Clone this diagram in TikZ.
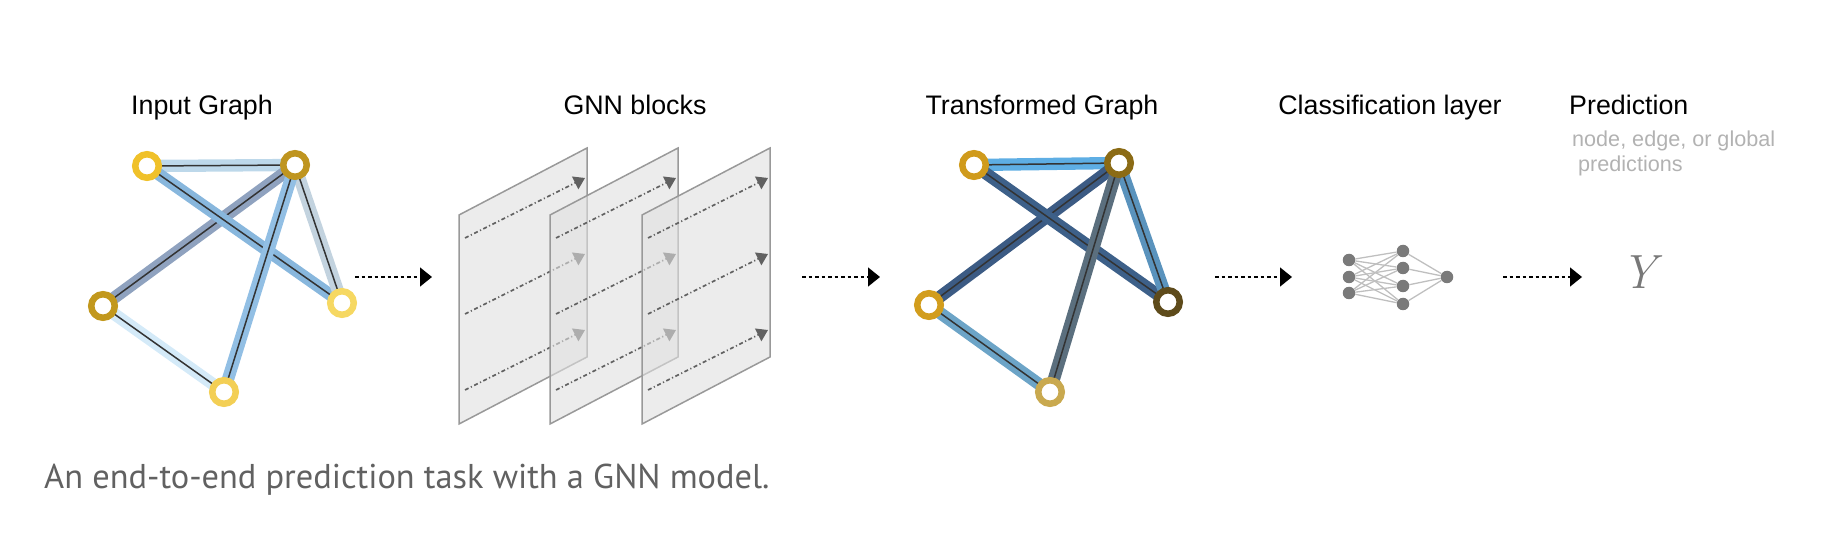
\documentclass[tikz,border=0pt]{standalone}
\usepackage{fontspec}
\usepackage{tikz}
\usetikzlibrary{arrows.meta,positioning,backgrounds}

\newfontfamily\labelfont{Liberation Sans}
\newfontfamily\captionfont{PT Sans}

% node rings
\definecolor{inA}{HTML}{F0C12A}
\definecolor{inB}{HTML}{BF951F}
\definecolor{inC}{HTML}{C2981D}
\definecolor{inD}{HTML}{F6D862}
\definecolor{inE}{HTML}{F3CF55}
\definecolor{outA}{HTML}{D09B1C}
\definecolor{outB}{HTML}{8B6B15}
\definecolor{outC}{HTML}{D29D1D}
\definecolor{outD}{HTML}{5E4B1B}
\definecolor{outE}{HTML}{C9A94F}
% edge bands
\definecolor{inAB}{HTML}{BDD8EA}
\definecolor{inAD}{HTML}{88B7DD}
\definecolor{inBC}{HTML}{8FA2BF}
\definecolor{inBE}{HTML}{92BFE4}
\definecolor{inBD}{HTML}{C3D3DF}
\definecolor{inCE}{HTML}{D4EAF8}
\definecolor{outAB}{HTML}{5EAEE4}
\definecolor{outAD}{HTML}{3D6089}
\definecolor{outBC}{HTML}{3C5B84}
\definecolor{outBE}{HTML}{5B6F7E}
\definecolor{outBD}{HTML}{5A93BD}
\definecolor{outCE}{HTML}{6CA4C7}

\begin{document}
\begin{tikzpicture}[
    x = 1pt, y = -1pt, % one unit per pixel, y going down
    gnode/.style = {circle, draw=#1, fill=white, line width=6.5pt,
        minimum size=23.5pt, inner sep=0pt}, % graph vertex
    band/.style = {draw=#1, line width=5.4pt, double=black!80,
        double distance=1.5pt}, % graph edge
    title/.style = {anchor=base, inner sep=0pt,
        font=\labelfont\fontsize{26.8}{30}\selectfont},
    panel/.style = {draw=black!40, line width=1.5pt, fill=black!12,
        fill opacity=0.6},
    pass/.style = {-{Triangle[length=11pt,width=14pt]}, draw=black!62,
        line width=1.6pt, dash pattern=on 4pt off 2.5pt on 1.2pt off 2.5pt},
    flow/.style = {-{Triangle[length=12pt,width=19pt]}, line width=1.5pt,
        dash pattern=on 3.5pt off 3pt},
    unit/.style = {circle, fill=black!52, minimum size=12.5pt, inner sep=0pt},
    wire/.style = {draw=black!25, line width=1.3pt}
    ]

    \useasboundingbox (0,0) rectangle (1826,534);

    % input graph
    \node[gnode=inA] (a1) at (147,166) {};
    \node[gnode=inB] (b1) at (295,165) {};
    \node[gnode=inC] (c1) at (103,306) {};
    \node[gnode=inD] (d1) at (342,303) {};
    \node[gnode=inE] (e1) at (224,392) {};
    \begin{scope}[on background layer]
        \path (a1.center) edge[band=inAB] (b1.center);
        \path (b1.center) edge[band=inBC] (c1.center);
        \path (a1.center) edge[band=inAD] (d1.center);
        \path (b1.center) edge[band=inBD] (d1.center);
        \path (b1.center) edge[band=inBE] (e1.center);
        \path (c1.center) edge[band=inCE] (e1.center);
    \end{scope}

    % GNN blocks
    \foreach \x in {459,550,642} {
        \filldraw[panel] (\x,215) -- ++(128,-67) -- ++(0,209) -- ++(-128,67) -- cycle;
        \foreach \dy in {0,76,152}
            \draw[pass] (\x+6,238+\dy) -- ++(120,-60);
    }

    % transformed graph
    \node[gnode=outA] (a2) at (974,165) {};
    \node[gnode=outB] (b2) at (1119,163) {};
    \node[gnode=outC] (c2) at (929,305) {};
    \node[gnode=outD] (d2) at (1168,302) {};
    \node[gnode=outE] (e2) at (1050,392) {};
    \begin{scope}[on background layer]
        \path (a2.center) edge[band=outAB] (b2.center);
        \path (b2.center) edge[band=outBC] (c2.center);
        \path (a2.center) edge[band=outAD] (d2.center);
        \path (b2.center) edge[band=outBD] (d2.center);
        \path (b2.center) edge[band=outBE] (e2.center);
        \path (c2.center) edge[band=outCE] (e2.center);
    \end{scope}

    % classification layer
    \foreach \n/\y in {1/260,2/277,3/293}
        \node[unit] (i\n) at (1349,\y) {};
    \foreach \n/\y in {1/251,2/268,3/286,4/304}
        \node[unit] (h\n) at (1403,\y) {};
    \node[unit] (o) at (1447,277) {};
    \foreach \i in {1,2,3}
        \foreach \h in {1,...,4}
            \draw[wire] (i\i) -- (h\h);
    \foreach \h in {1,...,4}
        \draw[wire] (h\h) -- (o);

    % prediction
    \node[text=black!53, inner sep=0pt,
        font=\fontsize{48}{50}\selectfont\itshape] (y) at (1639,272) {Y};

    % arrows between the stages
    \foreach \s/\e [count=\k] in {355/432, 802/880, 1215/1292, 1503/1582} {
        \coordinate (s\k) at (\s,277);
        \coordinate (t\k) at (\e,277);
        \draw[flow] (s\k) -- (t\k);
    }

    % labels
    \node[title] (tin) at (202,115) {Input Graph};
    \node[title] (tgnn) at (635,115) {GNN blocks};
    \node[title] (ttr) at (1042,115) {Transformed Graph};
    \node[title] (tcls) at (1390,115) {Classification layer};
    \node[title, anchor=base west] (tpred) at (1569,115) {Prediction};
    \node[anchor=base west, inner sep=0pt, align=left, text=black!30,
        font=\labelfont\fontsize{21.6}{25}\selectfont] (tsub) at (1572,172)
        {node, edge, or global\\\hspace{6pt}predictions};
    \node[anchor=base west, inner sep=0pt, text=black!62,
        font=\captionfont\fontsize{34.4}{40}\selectfont] (cap) at (44,488)
        {An end-to-end prediction task with a GNN model.};
\end{tikzpicture}
\end{document}
